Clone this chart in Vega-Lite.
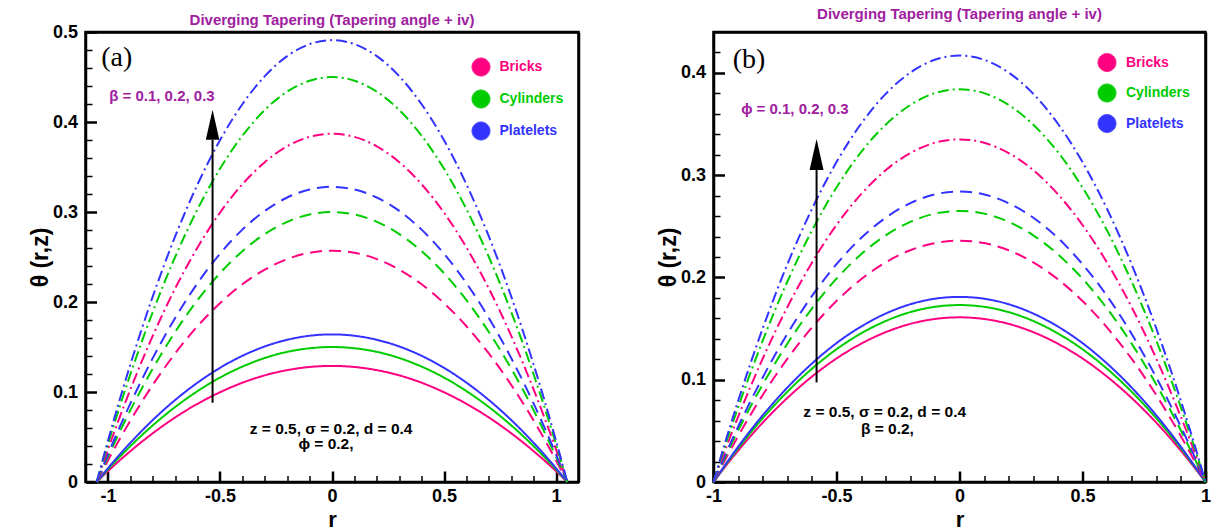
{
  "$schema": "https://vega.github.io/schema/vega-lite/v6.json",
  "padding": {"left": 27.5, "top": 5, "right": 0, "bottom": 0},
  "background": "white",
  "bounds": "flush",
  "spacing": 135,
  "config": {
    "view": {"stroke": "black", "strokeWidth": 2.5},
    "font": "Liberation Sans",
    "axis": {"labelFont": "Liberation Sans", "labelFontWeight": "bold", "labelFontSize": 18, "labelColor": "black", "titleFont": "Liberation Sans", "titleFontWeight": "bold", "titleColor": "black", "domain": false, "grid": false, "tickColor": "black", "domainColor": "black"}
  },
  "datasets": {
    "keys": [
      {"k": "B1", "m": "Bricks", "g": "1"}, {"k": "C1", "m": "Cylinders", "g": "1"}, {"k": "P1", "m": "Platelets", "g": "1"},
      {"k": "B2", "m": "Bricks", "g": "2"}, {"k": "C2", "m": "Cylinders", "g": "2"}, {"k": "P2", "m": "Platelets", "g": "2"},
      {"k": "B3", "m": "Bricks", "g": "3"}, {"k": "C3", "m": "Cylinders", "g": "3"}, {"k": "P3", "m": "Platelets", "g": "3"}
    ],
    "a": [
      {"r": -1.05, "B1": 0, "C1": 0, "P1": 0, "B2": 0, "C2": 0, "P2": 0, "B3": 0, "C3": 0, "P3": 0},
      {"r": -1.0, "B1": 0.0120, "C1": 0.0139, "P1": 0.0152, "B2": 0.0239, "C2": 0.0279, "P2": 0.0305, "B3": 0.0360, "C3": 0.0418, "P3": 0.0456},
      {"r": -0.95, "B1": 0.0234, "C1": 0.0272, "P1": 0.0298, "B2": 0.0466, "C2": 0.0544, "P2": 0.0595, "B3": 0.0702, "C3": 0.0816, "P3": 0.0891},
      {"r": -0.9, "B1": 0.0342, "C1": 0.0398, "P1": 0.0435, "B2": 0.0682, "C2": 0.0796, "P2": 0.0870, "B3": 0.1027, "C3": 0.1194, "P3": 0.1303},
      {"r": -0.8, "B1": 0.0541, "C1": 0.0629, "P1": 0.0688, "B2": 0.1078, "C2": 0.1259, "P2": 0.1376, "B3": 0.1623, "C3": 0.1888, "P3": 0.2060},
      {"r": -0.7, "B1": 0.0717, "C1": 0.0833, "P1": 0.0911, "B2": 0.1428, "C2": 0.1667, "P2": 0.1822, "B3": 0.2150, "C3": 0.2500, "P3": 0.2728},
      {"r": -0.6, "B1": 0.0869, "C1": 0.1010, "P1": 0.1104, "B2": 0.1731, "C2": 0.2020, "P2": 0.2209, "B3": 0.2606, "C3": 0.3031, "P3": 0.3307},
      {"r": -0.5, "B1": 0.0997, "C1": 0.1160, "P1": 0.1268, "B2": 0.1987, "C2": 0.2320, "P2": 0.2536, "B3": 0.2992, "C3": 0.3480, "P3": 0.3797},
      {"r": -0.4, "B1": 0.1103, "C1": 0.1282, "P1": 0.1402, "B2": 0.2197, "C2": 0.2565, "P2": 0.2804, "B3": 0.3308, "C3": 0.3847, "P3": 0.4197},
      {"r": -0.3, "B1": 0.1185, "C1": 0.1378, "P1": 0.1506, "B2": 0.2360, "C2": 0.2755, "P2": 0.3012, "B3": 0.3554, "C3": 0.4133, "P3": 0.4509},
      {"r": -0.2, "B1": 0.1243, "C1": 0.1446, "P1": 0.1580, "B2": 0.2477, "C2": 0.2891, "P2": 0.3161, "B3": 0.3730, "C3": 0.4337, "P3": 0.4732},
      {"r": -0.1, "B1": 0.1278, "C1": 0.1486, "P1": 0.1625, "B2": 0.2547, "C2": 0.2973, "P2": 0.3250, "B3": 0.3835, "C3": 0.4459, "P3": 0.4865},
      {"r": 0.0, "B1": 0.129, "C1": 0.150, "P1": 0.164, "B2": 0.257, "C2": 0.300, "P2": 0.328, "B3": 0.387, "C3": 0.450, "P3": 0.491},
      {"r": 0.1, "B1": 0.1278, "C1": 0.1486, "P1": 0.1625, "B2": 0.2547, "C2": 0.2973, "P2": 0.3250, "B3": 0.3835, "C3": 0.4459, "P3": 0.4865},
      {"r": 0.2, "B1": 0.1243, "C1": 0.1446, "P1": 0.1580, "B2": 0.2477, "C2": 0.2891, "P2": 0.3161, "B3": 0.3730, "C3": 0.4337, "P3": 0.4732},
      {"r": 0.3, "B1": 0.1185, "C1": 0.1378, "P1": 0.1506, "B2": 0.2360, "C2": 0.2755, "P2": 0.3012, "B3": 0.3554, "C3": 0.4133, "P3": 0.4509},
      {"r": 0.4, "B1": 0.1103, "C1": 0.1282, "P1": 0.1402, "B2": 0.2197, "C2": 0.2565, "P2": 0.2804, "B3": 0.3308, "C3": 0.3847, "P3": 0.4197},
      {"r": 0.5, "B1": 0.0997, "C1": 0.1160, "P1": 0.1268, "B2": 0.1987, "C2": 0.2320, "P2": 0.2536, "B3": 0.2992, "C3": 0.3480, "P3": 0.3797},
      {"r": 0.6, "B1": 0.0869, "C1": 0.1010, "P1": 0.1104, "B2": 0.1731, "C2": 0.2020, "P2": 0.2209, "B3": 0.2606, "C3": 0.3031, "P3": 0.3307},
      {"r": 0.7, "B1": 0.0717, "C1": 0.0833, "P1": 0.0911, "B2": 0.1428, "C2": 0.1667, "P2": 0.1822, "B3": 0.2150, "C3": 0.2500, "P3": 0.2728},
      {"r": 0.8, "B1": 0.0541, "C1": 0.0629, "P1": 0.0688, "B2": 0.1078, "C2": 0.1259, "P2": 0.1376, "B3": 0.1623, "C3": 0.1888, "P3": 0.2060},
      {"r": 0.9, "B1": 0.0342, "C1": 0.0398, "P1": 0.0435, "B2": 0.0682, "C2": 0.0796, "P2": 0.0870, "B3": 0.1027, "C3": 0.1194, "P3": 0.1303},
      {"r": 0.95, "B1": 0.0234, "C1": 0.0272, "P1": 0.0298, "B2": 0.0466, "C2": 0.0544, "P2": 0.0595, "B3": 0.0702, "C3": 0.0816, "P3": 0.0891},
      {"r": 1.0, "B1": 0.0120, "C1": 0.0139, "P1": 0.0152, "B2": 0.0239, "C2": 0.0279, "P2": 0.0305, "B3": 0.0360, "C3": 0.0418, "P3": 0.0456},
      {"r": 1.05, "B1": 0, "C1": 0, "P1": 0, "B2": 0, "C2": 0, "P2": 0, "B3": 0, "C3": 0, "P3": 0}
    ],
    "b": [
      {"r": -1.0, "B1": 0, "C1": 0, "P1": 0, "B2": 0, "C2": 0, "P2": 0, "B3": 0, "C3": 0, "P3": 0},
      {"r": -0.95, "B1": 0.0157, "C1": 0.0169, "P1": 0.0176, "B2": 0.0230, "C2": 0.0258, "P2": 0.0277, "B3": 0.0327, "C3": 0.0374, "P3": 0.0407},
      {"r": -0.9, "B1": 0.0306, "C1": 0.0329, "P1": 0.0344, "B2": 0.0448, "C2": 0.0504, "P2": 0.0540, "B3": 0.0637, "C3": 0.0730, "P3": 0.0792},
      {"r": -0.8, "B1": 0.0580, "C1": 0.0623, "P1": 0.0652, "B2": 0.0850, "C2": 0.0954, "P2": 0.1022, "B3": 0.1206, "C3": 0.1382, "P3": 0.1501},
      {"r": -0.7, "B1": 0.0821, "C1": 0.0882, "P1": 0.0923, "B2": 0.1204, "C2": 0.1352, "P2": 0.1448, "B3": 0.1709, "C3": 0.1958, "P3": 0.2127},
      {"r": -0.6, "B1": 0.1030, "C1": 0.1107, "P1": 0.1158, "B2": 0.1510, "C2": 0.1696, "P2": 0.1818, "B3": 0.2144, "C3": 0.2458, "P3": 0.2669},
      {"r": -0.5, "B1": 0.1208, "C1": 0.1298, "P1": 0.1358, "B2": 0.1770, "C2": 0.1988, "P2": 0.2130, "B3": 0.2513, "C3": 0.2880, "P3": 0.3128},
      {"r": -0.4, "B1": 0.1352, "C1": 0.1453, "P1": 0.1520, "B2": 0.1982, "C2": 0.2226, "P2": 0.2386, "B3": 0.2814, "C3": 0.3226, "P3": 0.3503},
      {"r": -0.3, "B1": 0.1465, "C1": 0.1574, "P1": 0.1647, "B2": 0.2148, "C2": 0.2412, "P2": 0.2584, "B3": 0.3049, "C3": 0.3494, "P3": 0.3795},
      {"r": -0.2, "B1": 0.1546, "C1": 0.1661, "P1": 0.1738, "B2": 0.2266, "C2": 0.2544, "P2": 0.2726, "B3": 0.3216, "C3": 0.3686, "P3": 0.4003},
      {"r": -0.1, "B1": 0.1594, "C1": 0.1713, "P1": 0.1792, "B2": 0.2336, "C2": 0.2624, "P2": 0.2812, "B3": 0.3317, "C3": 0.3802, "P3": 0.4128},
      {"r": 0.0, "B1": 0.161, "C1": 0.173, "P1": 0.181, "B2": 0.236, "C2": 0.265, "P2": 0.284, "B3": 0.335, "C3": 0.384, "P3": 0.417},
      {"r": 0.1, "B1": 0.1594, "C1": 0.1713, "P1": 0.1792, "B2": 0.2336, "C2": 0.2624, "P2": 0.2812, "B3": 0.3317, "C3": 0.3802, "P3": 0.4128},
      {"r": 0.2, "B1": 0.1546, "C1": 0.1661, "P1": 0.1738, "B2": 0.2266, "C2": 0.2544, "P2": 0.2726, "B3": 0.3216, "C3": 0.3686, "P3": 0.4003},
      {"r": 0.3, "B1": 0.1465, "C1": 0.1574, "P1": 0.1647, "B2": 0.2148, "C2": 0.2412, "P2": 0.2584, "B3": 0.3049, "C3": 0.3494, "P3": 0.3795},
      {"r": 0.4, "B1": 0.1352, "C1": 0.1453, "P1": 0.1520, "B2": 0.1982, "C2": 0.2226, "P2": 0.2386, "B3": 0.2814, "C3": 0.3226, "P3": 0.3503},
      {"r": 0.5, "B1": 0.1208, "C1": 0.1298, "P1": 0.1358, "B2": 0.1770, "C2": 0.1988, "P2": 0.2130, "B3": 0.2513, "C3": 0.2880, "P3": 0.3128},
      {"r": 0.6, "B1": 0.1030, "C1": 0.1107, "P1": 0.1158, "B2": 0.1510, "C2": 0.1696, "P2": 0.1818, "B3": 0.2144, "C3": 0.2458, "P3": 0.2669},
      {"r": 0.7, "B1": 0.0821, "C1": 0.0882, "P1": 0.0923, "B2": 0.1204, "C2": 0.1352, "P2": 0.1448, "B3": 0.1709, "C3": 0.1958, "P3": 0.2127},
      {"r": 0.8, "B1": 0.0580, "C1": 0.0623, "P1": 0.0652, "B2": 0.0850, "C2": 0.0954, "P2": 0.1022, "B3": 0.1206, "C3": 0.1382, "P3": 0.1501},
      {"r": 0.9, "B1": 0.0306, "C1": 0.0329, "P1": 0.0344, "B2": 0.0448, "C2": 0.0504, "P2": 0.0540, "B3": 0.0637, "C3": 0.0730, "P3": 0.0792},
      {"r": 0.95, "B1": 0.0157, "C1": 0.0169, "P1": 0.0176, "B2": 0.0230, "C2": 0.0258, "P2": 0.0277, "B3": 0.0327, "C3": 0.0374, "P3": 0.0407},
      {"r": 1.0, "B1": 0, "C1": 0, "P1": 0, "B2": 0, "C2": 0, "P2": 0, "B3": 0, "C3": 0, "P3": 0}
    ]
  },
  "resolve": {
    "scale": {"x": "independent", "y": "independent", "color": "shared", "strokeDash": "shared"},
    "legend": {"color": "independent", "strokeDash": "independent"}
  },
  "hconcat": [
    {
      "width": 493,
      "height": 450,
      "view": {"stroke": "black", "strokeWidth": 2.5},
      "title": {"text": "Diverging Tapering (Tapering angle + iv)", "color": "#a020a0", "fontSize": 15, "font": "Liberation Sans", "fontWeight": "bold", "baseline": "alphabetic", "offset": -17, "anchor": "middle", "frame": "group"},
      "resolve": {"axis": {"x": "independent", "y": "independent"}},
      "layer": [
        {
          "data": {"name": "a"},
          "transform": [
            {"fold": ["B1", "C1", "P1", "B2", "C2", "P2", "B3", "C3", "P3"], "as": ["k", "t"]},
            {"lookup": "k", "from": {"data": {"name": "keys"}, "key": "k", "fields": ["m", "g"]}}
          ],
          "mark": {"type": "line", "strokeWidth": 2, "interpolate": "monotone"},
          "encoding": {
            "x": {"field": "r", "type": "quantitative", "scale": {"domain": [-1.1, 1.1], "nice": false, "zero": false},
              "axis": {"orient": "bottom", "values": [-1, -0.5, 0, 0.5, 1], "labelExpr": "datum.value + ''", "tickSize": -11, "tickWidth": 2.5, "labelPadding": 30, "labelBaseline": "alphabetic", "labelFlush": false, "labelOverlap": false, "domain": true, "domainWidth": 2.5, "title": "r", "titleFontSize": 22, "titleX": 246.5, "titleY": 44, "titleBaseline": "alphabetic"}},
            "y": {"field": "t", "type": "quantitative", "scale": {"domain": [0, 0.5], "nice": false, "zero": false},
              "axis": {"orient": "left", "values": [0, 0.1, 0.2, 0.3, 0.4, 0.5], "labelExpr": "datum.value + ''", "tickSize": -11, "tickWidth": 2.5, "labelPadding": 19, "labelFlush": false, "labelOverlap": false, "domain": true, "domainWidth": 2.5, "title": "θ (r,z)", "titleFontSize": 23, "titleX": -45, "titleY": 225, "titleBaseline": "middle"}},
            "color": {"field": "m", "type": "nominal", "scale": {"domain": ["Bricks", "Cylinders", "Platelets"], "range": ["#ff0080", "#00cc00", "#3333ff"]},
              "legend": {"orient": "none", "legendX": 386, "legendY": 25.5, "title": null, "symbolType": "circle", "symbolSize": 324, "labelFontSize": 14, "labelFont": "Liberation Sans", "labelFontWeight": "bold", "labelOffset": 9, "rowPadding": 9, "padding": 0,
                "encode": {"symbols": {"update": {"fill": {"scale": "color", "field": "value"}, "stroke": {"value": "black"}, "strokeWidth": {"value": 1}, "strokeDash": {"value": [1, 0]}, "opacity": {"value": 1}, "fillOpacity": {"value": 1}}}, "labels": {"update": {"fill": {"scale": "color", "field": "value"}}}}}},
            "strokeDash": {"field": "g", "type": "nominal", "scale": {"domain": ["1", "2", "3"], "range": [[1, 0], [12, 7], [11, 4, 2, 4]]}, "legend": null}
          }
        },
        {
          "data": {"values": [{"r": -0.533, "y0": 0.088, "y1": 0.38}]},
          "mark": {"type": "rule", "strokeWidth": 2, "color": "black"},
          "encoding": {
            "x": {"field": "r", "type": "quantitative", "axis": {"orient": "bottom", "values": [-0.9, -0.8, -0.7, -0.6, -0.4, -0.3, -0.2, -0.1, 0.1, 0.2, 0.3, 0.4, 0.6, 0.7, 0.8, 0.9], "labels": false, "tickSize": -6.5, "tickWidth": 1.5, "title": null}},
            "y": {"field": "y0", "type": "quantitative", "axis": {"orient": "left", "values": [0.02, 0.04, 0.06, 0.08, 0.12, 0.14, 0.16, 0.18, 0.22, 0.24, 0.26, 0.28, 0.32, 0.34, 0.36, 0.38, 0.42, 0.44, 0.46, 0.48], "labels": false, "tickSize": -6.5, "tickWidth": 1.5, "title": null}},
            "y2": {"field": "y1"}
          }
        },
        {
          "data": {"values": [{"r": -0.533, "yh": 0.397}]},
          "mark": {"type": "point", "shape": "M0,-1L0.45,1L-0.45,1Z", "size": 900, "filled": true, "color": "black", "opacity": 1},
          "encoding": {
            "x": {"field": "r", "type": "quantitative", "axis": {"orient": "top", "ticks": false, "labels": false, "title": null, "domain": true, "domainWidth": 2.5}},
            "y": {"field": "yh", "type": "quantitative", "axis": {"orient": "right", "ticks": false, "labels": false, "title": null, "domain": true, "domainWidth": 2.5}}
          }
        },
        {
          "data": {"values": [{"r": -1.03, "t": 0.471, "label": "(a)"}]},
          "mark": {"type": "text", "font": "Liberation Serif", "fontSize": 28, "align": "left", "baseline": "middle", "color": "black"},
          "encoding": {
            "x": {"field": "r", "type": "quantitative", "axis": null},
            "y": {"field": "t", "type": "quantitative", "axis": null},
            "text": {"field": "label"}
          }
        },
        {
          "data": {"values": [{"r": -0.759, "t": 0.4294, "label": "β = 0.1, 0.2, 0.3"}]},
          "mark": {"type": "text", "font": "Liberation Sans", "fontWeight": "bold", "fontSize": 15, "align": "center", "baseline": "middle", "color": "#a020a0"},
          "encoding": {
            "x": {"field": "r", "type": "quantitative", "axis": null},
            "y": {"field": "t", "type": "quantitative", "axis": null},
            "text": {"field": "label"}
          }
        },
        {
          "data": {"values": [{"r": -0.004, "t": 0.0592, "label": "z = 0.5, σ = 0.2, d = 0.4"}, {"r": -0.027, "t": 0.0418, "label": "ϕ = 0.2,"}]},
          "mark": {"type": "text", "font": "Liberation Sans", "fontWeight": "bold", "fontSize": 15.5, "align": "center", "baseline": "middle", "color": "black"},
          "encoding": {
            "x": {"field": "r", "type": "quantitative", "axis": null},
            "y": {"field": "t", "type": "quantitative", "axis": null},
            "text": {"field": "label"}
          }
        }
      ]
    },
    {
      "width": 492,
      "height": 450,
      "view": {"stroke": "black", "strokeWidth": 2.5},
      "title": {"text": "Diverging Tapering (Tapering angle + iv)", "color": "#a020a0", "fontSize": 15, "font": "Liberation Sans", "fontWeight": "bold", "baseline": "alphabetic", "offset": -2, "anchor": "middle", "frame": "group"},
      "resolve": {"axis": {"x": "independent", "y": "independent"}},
      "layer": [
        {
          "data": {"name": "b"},
          "transform": [
            {"fold": ["B1", "C1", "P1", "B2", "C2", "P2", "B3", "C3", "P3"], "as": ["k", "t"]},
            {"lookup": "k", "from": {"data": {"name": "keys"}, "key": "k", "fields": ["m", "g"]}}
          ],
          "mark": {"type": "line", "strokeWidth": 2, "interpolate": "monotone"},
          "encoding": {
            "x": {"field": "r", "type": "quantitative", "scale": {"domain": [-1, 1], "nice": false, "zero": false},
              "axis": {"orient": "bottom", "values": [-1, -0.5, 0, 0.5, 1], "labelExpr": "datum.value + ''", "tickSize": -11, "tickWidth": 2.5, "labelPadding": 30, "labelBaseline": "alphabetic", "labelFlush": false, "labelOverlap": false, "domain": true, "domainWidth": 2.5, "title": "r", "titleFontSize": 22, "titleX": 246, "titleY": 44, "titleBaseline": "alphabetic"}},
            "y": {"field": "t", "type": "quantitative", "scale": {"domain": [0, 0.44], "nice": false, "zero": false},
              "axis": {"orient": "left", "values": [0, 0.1, 0.2, 0.3, 0.4], "labelExpr": "datum.value + ''", "tickSize": -11, "tickWidth": 2.5, "labelPadding": 19, "labelFlush": false, "labelOverlap": false, "domain": true, "domainWidth": 2.5, "title": "θ (r,z)", "titleFontSize": 23, "titleX": -45, "titleY": 225, "titleBaseline": "middle"}},
            "color": {"field": "m", "type": "nominal", "scale": {"domain": ["Bricks", "Cylinders", "Platelets"], "range": ["#ff0080", "#00cc00", "#3333ff"]},
              "legend": {"orient": "none", "legendX": 384, "legendY": 21, "title": null, "symbolType": "circle", "symbolSize": 324, "labelFontSize": 14, "labelFont": "Liberation Sans", "labelFontWeight": "bold", "labelOffset": 9.5, "rowPadding": 7.5, "padding": 0,
                "encode": {"symbols": {"update": {"fill": {"scale": "color", "field": "value"}, "stroke": {"value": "black"}, "strokeWidth": {"value": 1}, "strokeDash": {"value": [1, 0]}, "opacity": {"value": 1}, "fillOpacity": {"value": 1}}}, "labels": {"update": {"fill": {"scale": "color", "field": "value"}}}}}},
            "strokeDash": {"field": "g", "type": "nominal", "scale": {"domain": ["1", "2", "3"], "range": [[1, 0], [12, 7], [11, 4, 2, 4]]}, "legend": null}
          }
        },
        {
          "data": {"values": [{"r": -0.581, "y0": 0.0974, "y1": 0.305}]},
          "mark": {"type": "rule", "strokeWidth": 2, "color": "black"},
          "encoding": {
            "x": {"field": "r", "type": "quantitative", "axis": {"orient": "bottom", "values": [-0.9, -0.8, -0.7, -0.6, -0.4, -0.3, -0.2, -0.1, 0.1, 0.2, 0.3, 0.4, 0.6, 0.7, 0.8, 0.9], "labels": false, "tickSize": -6.5, "tickWidth": 1.5, "title": null}},
            "y": {"field": "y0", "type": "quantitative", "axis": {"orient": "left", "values": [0.02, 0.04, 0.06, 0.08, 0.12, 0.14, 0.16, 0.18, 0.22, 0.24, 0.26, 0.28, 0.32, 0.34, 0.36, 0.38, 0.42], "labels": false, "tickSize": -6.5, "tickWidth": 1.5, "title": null}},
            "y2": {"field": "y1"}
          }
        },
        {
          "data": {"values": [{"r": -0.581, "yh": 0.3203}]},
          "mark": {"type": "point", "shape": "M0,-1L0.45,1L-0.45,1Z", "size": 961, "filled": true, "color": "black", "opacity": 1},
          "encoding": {
            "x": {"field": "r", "type": "quantitative", "axis": {"orient": "top", "ticks": false, "labels": false, "title": null, "domain": true, "domainWidth": 2.5}},
            "y": {"field": "yh", "type": "quantitative", "axis": {"orient": "right", "ticks": false, "labels": false, "title": null, "domain": true, "domainWidth": 2.5}}
          }
        },
        {
          "data": {"values": [{"r": -0.922, "t": 0.4126, "label": "(b)"}]},
          "mark": {"type": "text", "font": "Liberation Serif", "fontSize": 28, "align": "left", "baseline": "middle", "color": "black"},
          "encoding": {
            "x": {"field": "r", "type": "quantitative", "axis": null},
            "y": {"field": "t", "type": "quantitative", "axis": null},
            "text": {"field": "label"}
          }
        },
        {
          "data": {"values": [{"r": -0.669, "t": 0.365, "label": "ϕ = 0.1, 0.2, 0.3"}]},
          "mark": {"type": "text", "font": "Liberation Sans", "fontWeight": "bold", "fontSize": 15, "align": "center", "baseline": "middle", "color": "#a020a0"},
          "encoding": {
            "x": {"field": "r", "type": "quantitative", "axis": null},
            "y": {"field": "t", "type": "quantitative", "axis": null},
            "text": {"field": "label"}
          }
        },
        {
          "data": {"values": [{"r": -0.304, "t": 0.068, "label": "z = 0.5, σ = 0.2, d = 0.4"}, {"r": -0.293, "t": 0.052, "label": "β = 0.2,"}]},
          "mark": {"type": "text", "font": "Liberation Sans", "fontWeight": "bold", "fontSize": 15.5, "align": "center", "baseline": "middle", "color": "black"},
          "encoding": {
            "x": {"field": "r", "type": "quantitative", "axis": null},
            "y": {"field": "t", "type": "quantitative", "axis": null},
            "text": {"field": "label"}
          }
        }
      ]
    }
  ]
}
